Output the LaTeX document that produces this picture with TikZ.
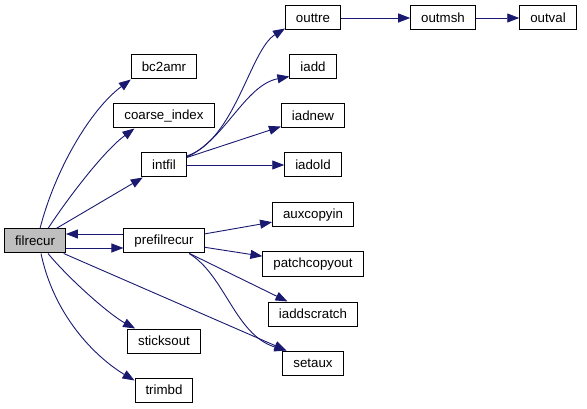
\documentclass[tikz,border=0pt]{standalone}
\usepackage{fontspec}
\setmainfont{Liberation Sans}
\usepackage{xcolor}
\usetikzlibrary{
	arrows.meta,
	positioning
}
\definecolor{edgeblue}{HTML}{191970}
\definecolor{rootgray}{HTML}{BFBFBF}

\begin{document}
\begin{tikzpicture}[
		x=1pt, y=-1pt,
		>={Triangle[length=12pt,width=9pt]},
		func/.style={
			draw,
			line width=1pt,
			fill=white,
			minimum height=24pt,
			inner xsep=10.5pt,
			inner ysep=0pt,
			font=\fontsize{13.3}{15}\selectfont
		},
		root/.style={
			func,
			fill=rootgray
		},
		call/.style={
			->,
			draw=edgeblue,
			fill=none,
			line width=0.9pt
		}
		]
		
		\useasboundingbox (0,0) rectangle (587,409);
		
		% Caller
		\node[root] (filrecur) at (35,241) {filrecur};
		
		% First level
		\node[func] (bc2amr) at (164,67) {bc2amr};
		\node[func] (coarse_index) at (164,116) {coarse\_index};
		\node[func] (intfil) at (164,165) {intfil};
		\node[func] (prefilrecur) at (164,241) {prefilrecur};
		\node[func] (sticksout) at (164,341) {sticksout};
		\node[func] (trimbd) at (164,390) {trimbd};
		
		% Second level
		\node[func] (outtre) at (313,18) {outtre};
		\node[func] (iadd) at (313,67) {iadd};
		\node[func] (iadnew) at (313,116) {iadnew};
		\node[func] (iadold) at (313,165) {iadold};
		\node[func] (auxcopyin) at (313,215) {auxcopyin};
		\node[func] (patchcopyout) at (313,264) {patchcopyout};
		\node[func] (iaddscratch) at (313,314) {iaddscratch};
		\node[func] (setaux) at (313,363) {setaux};
		
		% Third and fourth level
		\node[func] (outmsh) at (443,18) {outmsh};
		\node[func] (outval) at (548,18) {outval};
		
		% Calls from filrecur
		\draw[call] ([xshift=5pt]filrecur.north) .. controls (55,170) and (90,110) .. (bc2amr.south west);
		\draw[call] ([xshift=13pt]filrecur.north) .. controls (70,195) and (105,150) .. ([xshift=21pt]coarse_index.south west);
		\draw[call] (filrecur) -- (intfil);
		\draw[call] ([yshift=-7pt]filrecur.east) -- ([yshift=-7pt]prefilrecur.west);
		\draw[call] ([yshift=7pt]prefilrecur.west) -- ([yshift=7pt]filrecur.east);
		\draw[call] ([xshift=13pt]filrecur.south) .. controls (70,280) and (110,315) .. ([xshift=8pt]sticksout.north west);
		\draw[call] ([xshift=6pt]filrecur.south) .. controls (55,320) and (100,360) .. ([yshift=-3pt]trimbd.north west);
		\draw[call] (filrecur) -- ([xshift=4pt]setaux.north west);
		
		% Calls from intfil
		\draw[call] ([yshift=9pt]intfil.east) .. controls (235,140) and (250,50) .. ([yshift=2pt]outtre.south west);
		\draw[call] ([yshift=8pt]intfil.east) .. controls (225,140) and (245,85) .. ([yshift=3pt]iadd.south west);
		\draw[call] (intfil) -- (iadnew);
		\draw[call] (intfil) -- (iadold);
		
		% Calls from prefilrecur
		\draw[call] (prefilrecur) -- (auxcopyin);
		\draw[call] (prefilrecur) -- (patchcopyout);
		\draw[call] (prefilrecur) -- (iaddscratch);
		\draw[call] ([xshift=25pt]prefilrecur.south) .. controls (225,275) and (235,335) .. ([xshift=4pt]setaux.north west);
		
		% Output chain
		\draw[call] (outtre) -- (outmsh);
		\draw[call] (outmsh) -- (outval);
		
	\end{tikzpicture}
\end{document}
